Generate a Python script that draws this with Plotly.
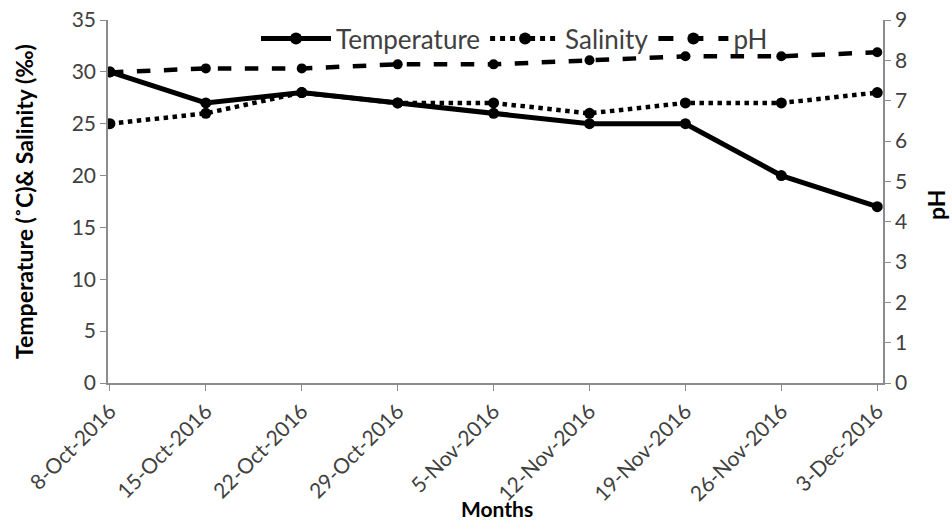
import plotly.graph_objects as go

dates = ["8-Oct-2016", "15-Oct-2016", "22-Oct-2016", "29-Oct-2016", "5-Nov-2016",
         "12-Nov-2016", "19-Nov-2016", "26-Nov-2016", "3-Dec-2016"]
temperature = [30, 27, 28, 27, 26, 25, 25, 20, 17]
salinity = [25, 26, 28, 27, 27, 26, 27, 27, 28]
ph = [7.7, 7.8, 7.8, 7.9, 7.9, 8.0, 8.1, 8.1, 8.2]

FONT = "Lato"
AX = "#8c8c8c"
L, R, T, B = 108, 883, 20, 383
W, H = R - L, B - T


def px(x):
    return (x - L) / W


def py(y):
    return (B - y) / H


fig = go.Figure()
fig.add_trace(go.Scatter(x=dates, y=temperature, name="Temperature", mode="lines+markers",
                         line=dict(color="black", width=5, dash="solid"),
                         marker=dict(color="black", size=11)))
fig.add_trace(go.Scatter(x=dates, y=salinity, name="Salinity", mode="lines+markers",
                         line=dict(color="black", width=4.5, dash="dot"),
                         marker=dict(color="black", size=11)))
fig.add_trace(go.Scatter(x=dates, y=ph, name="pH", mode="lines+markers", yaxis="y2",
                         line=dict(color="black", width=4.5, dash="dash"),
                         marker=dict(color="black", size=10)))

fig.update_layout(
    width=952, height=527,
    margin=dict(l=L, r=952 - R, t=T, b=527 - B, autoexpand=False),
    paper_bgcolor="white", plot_bgcolor="white",
    font=dict(family=FONT, color="#404040", size=20),
    showlegend=True,
    legend=dict(orientation="h", x=px(256), y=py(15), xanchor="left", yanchor="top",
                itemwidth=70, bgcolor="rgba(0,0,0,0)",
                font=dict(family=FONT, size=26, color="#404040"),
                tracegroupgap=0, itemsizing="constant"),
    xaxis=dict(type="category", range=[-0.02, 8.06], showgrid=False, automargin=False,
               showline=True, linecolor=AX, linewidth=1.5,
               ticks="outside", ticklen=6, tickcolor=AX, tickangle=-45,
               tickfont=dict(family=FONT, size=21, color="#404040"), zeroline=False),
    yaxis=dict(range=[0, 35], dtick=5, showgrid=False, showline=True, linecolor=AX,
               automargin=False,
               linewidth=1.5, ticks="outside", ticklen=6, tickcolor=AX, zeroline=False,
               tickfont=dict(family=FONT, size=21, color="#404040")),
    yaxis2=dict(range=[0, 9], dtick=1, overlaying="y", side="right", showgrid=False,
                automargin=False,
                showline=True, linecolor=AX, linewidth=1.5, ticks="outside", ticklen=6,
                tickcolor=AX, zeroline=False,
                tickfont=dict(family=FONT, size=21, color="#404040")),
    annotations=[
        dict(text="<b>Months</b>", xref="paper", yref="paper", x=px(497),
             y=py(508), showarrow=False, xanchor="center", yanchor="middle",
             font=dict(family=FONT, size=21, color="black")),
        dict(text="<b>Temperature (˚C)& Salinity (‰)</b>", xref="paper", yref="paper",
             x=px(24), y=py(202), showarrow=False, textangle=-90,
             xanchor="center", yanchor="middle",
             font=dict(family=FONT, size=23, color="black")),
        dict(text="<b>pH</b>", xref="paper", yref="paper",
             x=px(936), y=py(205), showarrow=False, textangle=-90,
             xanchor="center", yanchor="middle",
             font=dict(family=FONT, size=23, color="black")),
    ],
)

fig.write_html("out.html", config={"displayModeBar": False},
               post_script="document.body.style.margin='0';")
